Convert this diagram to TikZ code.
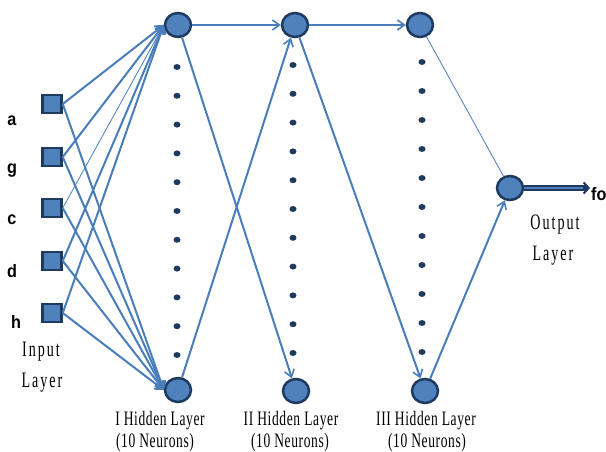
\documentclass[tikz,border=0pt]{standalone}
\usepackage{fontspec}
\setmainfont{Liberation Serif}
\newfontfamily\condfont[FakeStretch=0.66,LetterSpace=3]{Liberation Serif}
\newfontfamily\spacedfont[FakeStretch=0.64,LetterSpace=9]{Liberation Serif}
\newfontfamily\boldsans[FakeStretch=0.9]{Liberation Sans Bold}
\usetikzlibrary{arrows.meta,shapes.geometric}
\definecolor{nodefill}{HTML}{4F81BD}
\definecolor{nodeedge}{HTML}{1F3A60}
\definecolor{linkc}{HTML}{4A7EBB}
\definecolor{dotc}{HTML}{1F3A5F}
\begin{document}
\begin{tikzpicture}[x=1pt,y=-1pt,
  neuron/.style={ellipse,draw=nodeedge,fill=nodefill,line width=2.5pt,minimum width=26pt,minimum height=24pt,inner sep=0pt},
  inbox/.style={rectangle,draw=nodeedge,fill=nodefill,line width=2.5pt,minimum width=19pt,minimum height=18pt,inner sep=0pt},
  link/.style={draw=linkc,line width=2pt},
  thin link/.style={draw=linkc,line width=0.8pt},
  arr/.style={-{Straight Barb[length=7pt,width=10pt,line width=1.6pt]}},
  dotn/.style={ellipse,fill=dotc,minimum width=7pt,minimum height=6pt,inner sep=0pt},
  letter/.style={font=\boldsans\fontsize{18}{18}\selectfont},
  lab/.style={font=\condfont\fontsize{20.5}{20.5}\selectfont,inner sep=0pt},
  slab/.style={font=\spacedfont\fontsize{22}{22}\selectfont,inner sep=0pt}]
\useasboundingbox (0,0) rectangle (606,452);
% input
\node[inbox] (i1) at (52,104) {};
\node[inbox] (i2) at (52,157) {};
\node[inbox] (i3) at (52,208) {};
\node[inbox] (i4) at (52,261) {};
\node[inbox] (i5) at (52,313) {};
\node[letter] (la) at (12,121) {a};
\node[letter] (lg) at (12,171) {g};
\node[letter] (lc) at (12,220) {c};
\node[letter] (ld) at (12,271) {d};
\node[letter] (lh) at (16,322) {h};
% hidden layers
\node[neuron] (h1t) at (178,25) {};
\node[neuron] (h1b) at (178,390) {};
\node[neuron] (h2t) at (295,25) {};
\node[neuron] (h2b) at (296,391) {};
\node[neuron] (h3t) at (420,25) {};
\node[neuron] (h3b) at (425,391) {};
\node[neuron] (out) at (510,188) {};
% dots
\foreach \k in {0,...,10}{
  \node[dotn] (d1\k) at (177,{67+28.8*\k}) {};
  \node[dotn] (d2\k) at (293,{65+28.8*\k}) {};
  \node[dotn] (d3\k) at (422,{62+29*\k}) {};
}
% input links
\foreach \i in {i1,i2,i4,i5}{
  \draw[link,arr] (\i.east) -- (h1t.west);
}
\draw[thin link,arr] (i3.east) -- (h1t.west);
\foreach \i in {i1,i2,i3,i4,i5}{
  \draw[link,arr] (\i.east) -- (h1b.west);
}
% hidden links
\draw[link,arr] (h1t) -- (h2t);
\draw[link,arr] (h1t) -- (h2b);
\draw[link,arr] (h1b) -- (h2t);
\draw[link,arr] (h2t) -- (h3t);
\draw[link,arr] (h2t) -- (h3b);
\draw[thin link] (h3t) -- (out);
\draw[link,arr] (h3b) -- (out);
% output arrow
\coordinate (fend) at (590,188);
\draw[draw=nodeedge,line width=6.5pt,-{Straight Barb[length=5pt,width=11pt,line width=2pt]}] (out.east) -- (fend);
\draw[draw=nodefill,line width=2.6pt,shorten >=7pt] (out.east) -- (fend);
\node[letter,anchor=west,inner sep=0pt] (fo) at (591,194) {fo};
% labels
\node[slab] (inp) at (41,352) {Input};
\node[slab] (inl) at (42,383) {Layer};
\node[slab] (ol1) at (555,225) {Output};
\node[slab] (ol2) at (553,256) {Layer};
\node[lab] (l1a) at (160,421) {I Hidden Layer};
\node[lab] (l1b) at (155,443) {(10 Neurons)};
\node[lab] (l2a) at (291,421) {II Hidden Layer};
\node[lab] (l2b) at (290,443) {(10 Neurons)};
\node[lab] (l3a) at (426,421) {III Hidden Layer};
\node[lab] (l3b) at (427,443) {(10 Neurons)};
\end{tikzpicture}
\end{document}
